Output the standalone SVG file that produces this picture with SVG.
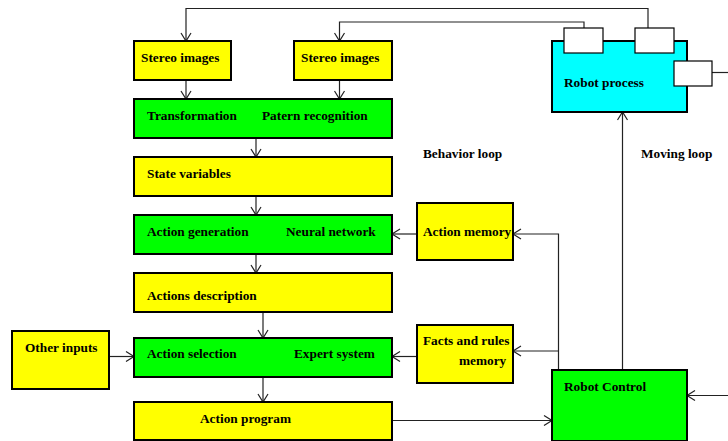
<svg xmlns="http://www.w3.org/2000/svg" width="728" height="441" viewBox="0 0 728 441">
<defs>
<style>
.box{stroke:#000;stroke-width:2}
.y{fill:#ffff00}
.g{fill:#00ff00}
.c{fill:#00ffff}
.w{fill:#fff;stroke:#000;stroke-width:1.2}
text{font-family:"Liberation Serif","Times New Roman",serif;font-weight:bold;font-size:13.3px;fill:#000}
.ln{fill:none;stroke:#222;stroke-width:1.2}
</style>
<marker id="arr" markerUnits="userSpaceOnUse" markerWidth="12" markerHeight="12" refX="9" refY="6" orient="auto">
<path d="M1,1 L9,6 L1,11" fill="none" stroke="#222" stroke-width="1.2"/>
</marker>
</defs>
<rect width="728" height="441" fill="#fff"/>
<g id="connectors">
<path class="ln" d="M648,28 V8.5 H186 V41" marker-end="url(#arr)"/>
<path class="ln" d="M584,28 V22 H339.5 V41" marker-end="url(#arr)"/>
<path class="ln" d="M186,80 V99" marker-end="url(#arr)"/>
<path class="ln" d="M339.5,80 V99" marker-end="url(#arr)"/>
<path class="ln" d="M256,138 V157" marker-end="url(#arr)"/>
<path class="ln" d="M256,196 V215" marker-end="url(#arr)"/>
<path class="ln" d="M256,254 V273" marker-end="url(#arr)"/>
<path class="ln" d="M263,312 V338" marker-end="url(#arr)"/>
<path class="ln" d="M263,377 V402" marker-end="url(#arr)"/>
<path class="ln" d="M109,356.5 H134" marker-end="url(#arr)"/>
<path class="ln" d="M417,234 H392" marker-end="url(#arr)"/>
<path class="ln" d="M417,356.5 H392" marker-end="url(#arr)"/>
<path class="ln" d="M558.5,370 V234 H513" marker-end="url(#arr)"/>
<path class="ln" d="M558.5,351 H513" marker-end="url(#arr)"/>
<path class="ln" d="M622.5,370 V112" marker-end="url(#arr)"/>
<path class="ln" d="M392,420.5 H552" marker-end="url(#arr)"/>
<path class="ln" d="M728,395.5 H687" marker-end="url(#arr)"/>
<path class="ln" d="M712,72.5 H728"/>
</g>
<g id="stereo1"><rect class="box y" x="134" y="41" width="97" height="39"/><text x="141" y="62">Stereo images</text></g>
<g id="stereo2"><rect class="box y" x="294" y="41" width="98" height="39"/><text x="301" y="62">Stereo images</text></g>
<g id="transformation"><rect class="box g" x="134" y="99" width="258" height="39"/><text x="147" y="120">Transformation</text><text x="262" y="120">Patern recognition</text></g>
<g id="state"><rect class="box y" x="134" y="157" width="258" height="39"/><text x="147" y="178">State variables</text></g>
<g id="actiongen"><rect class="box g" x="134" y="215" width="258" height="39"/><text x="147" y="236">Action generation</text><text x="286" y="236">Neural network</text></g>
<g id="actionsdesc"><rect class="box y" x="134" y="273" width="258" height="39"/><text x="147" y="300">Actions description</text></g>
<g id="actionsel"><rect class="box g" x="134" y="338" width="258" height="39"/><text x="147" y="358">Action selection</text><text x="294" y="358">Expert system</text></g>
<g id="program"><rect class="box y" x="134" y="402" width="258" height="38"/><text x="200" y="423">Action program</text></g>
<g id="otherinputs"><rect class="box y" x="12" y="331" width="97" height="58"/><text x="25" y="352">Other inputs</text></g>
<g id="actionmemory"><rect class="box y" x="417" y="203" width="96" height="57"/><text x="423" y="236">Action memory</text></g>
<g id="facts"><rect class="box y" x="417" y="325" width="96" height="58"/><text x="423" y="345">Facts and rules</text><text x="459" y="365">memory</text></g>
<g id="robotprocess"><rect class="box c" x="552" y="41" width="135" height="71"/><text x="564" y="87">Robot process</text>
<rect class="w" x="564" y="28" width="39" height="25"/><rect class="w" x="635" y="28" width="39" height="25"/><rect class="w" x="674" y="61" width="38" height="25"/></g>
<g id="robotcontrol"><rect class="box g" x="552" y="370" width="135" height="71"/><text x="564" y="391">Robot Control</text></g>
<g id="labels"><text x="423" y="158">Behavior loop</text><text x="641" y="158">Moving loop</text></g>
</svg>
